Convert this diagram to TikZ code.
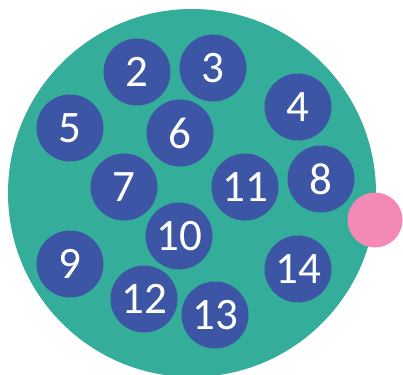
\documentclass[tikz,border=0pt]{standalone}
\usepackage{fontspec}
\setmainfont{Carlito}
\usepackage{xcolor}
\usepackage{tikz}
\definecolor{cellteal}{HTML}{34AD9B}
\definecolor{dotblue}{HTML}{3C55A5}
\definecolor{porepink}{HTML}{F38AB6}

\begin{document}
\begin{tikzpicture}[
    x=1pt, y=-1pt,
    every node/.style={font=\fontsize{45}{45}\selectfont, text=white},
    cell/.style={circle, fill=cellteal, minimum size=368pt, inner sep=0pt},
    dot/.style={circle, fill=dotblue, minimum size=67pt, inner sep=0pt},
    pore/.style={circle, fill=porepink, minimum size=55pt, inner sep=0pt}
]
\useasboundingbox (0,0) rectangle (403,374);
\node[cell]       (body)  at (192,193) {};
\node[pore]       (pore)  at (375,220) {};
\node[dot]        (d2)    at (137,72)  {2};
\node[dot]        (d3)    at (213,68)  {3};
\node[dot]        (d4)    at (298,107) {4};
\node[dot]        (d5)    at (70,128)  {5};
\node[dot]        (d6)    at (180,133) {6};
\node[dot]        (d7)    at (124,187) {7};
\node[dot]        (d11)   at (245,187) {11};
\node[dot]        (d8)    at (321,179) {8};
\node[dot]        (d10)   at (179,236) {10};
\node[dot]        (d9)    at (70,264)  {9};
\node[dot]        (d14)   at (298,269) {14};
\node[dot]        (d12)   at (144,299) {12};
\node[dot]        (d13)   at (215,315) {13};
\end{tikzpicture}
\end{document}
